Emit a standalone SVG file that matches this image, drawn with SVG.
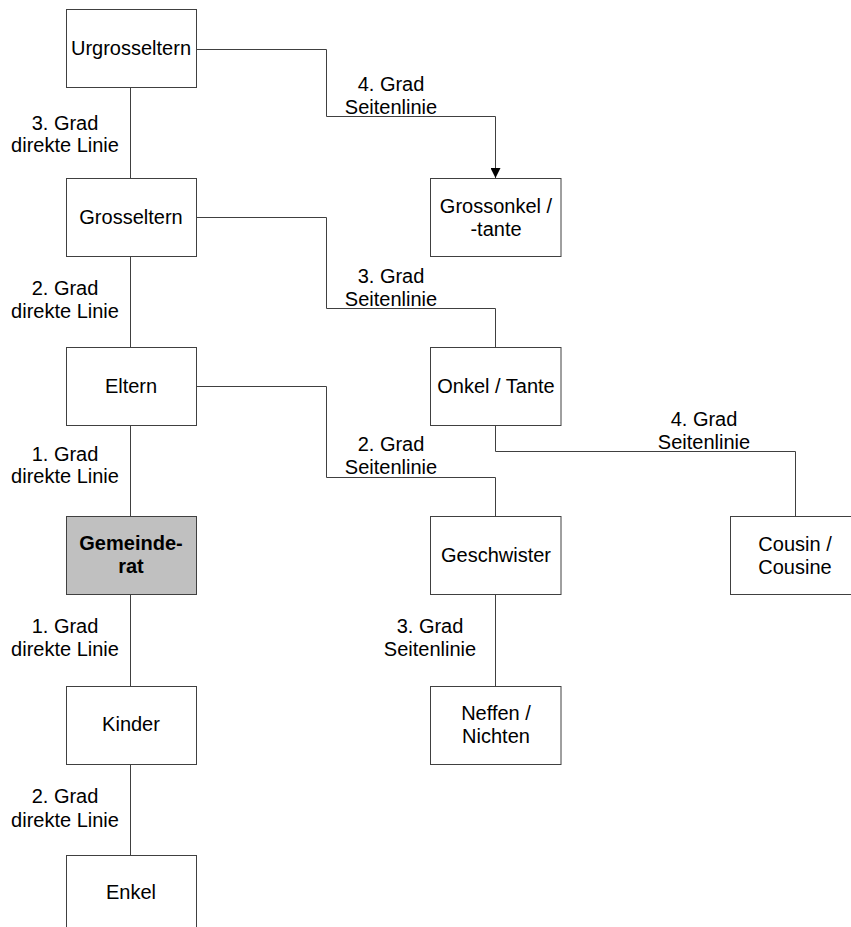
<svg xmlns="http://www.w3.org/2000/svg" width="851" height="927" viewBox="0 0 851 927">
<style>
.box{fill:#ffffff;stroke:#404040;stroke-width:1}
.hl{fill:#c0c0c0}
.t{font-family:"Liberation Sans",Arial,sans-serif;font-size:20px;fill:#000000;text-anchor:middle}
.b{font-weight:bold}
.c{fill:none;stroke:#404040;stroke-width:1}
</style>
<defs>
<marker id="arr" markerWidth="10" markerHeight="10" refX="10" refY="5" orient="auto" markerUnits="userSpaceOnUse">
<path d="M0,0 L10,5 L0,10 Z" fill="#000000"/>
</marker>
</defs>
<rect width="851" height="927" fill="#ffffff"/>
<g id="connectors">
<path class="c" d="M130.5,87.5 V178.5"/>
<path class="c" d="M130.5,256.5 V347.5"/>
<path class="c" d="M130.5,425.5 V516.5"/>
<path class="c" d="M130.5,594.5 V686.5"/>
<path class="c" d="M130.5,764.5 V855.5"/>
<path class="c" d="M196.5,49.5 H326.5 V116.5 H495.5 V178" marker-end="url(#arr)"/>
<path class="c" d="M196.5,217.5 H326.5 V308.5 H495.5 V347.5"/>
<path class="c" d="M196.5,386.5 H326.5 V477.5 H495.5 V516.5"/>
<path class="c" d="M495.5,425.5 V451.5 H795.5 V516.5"/>
<path class="c" d="M495.5,594.5 V686.5"/>
</g>
<g id="labels">
<text class="t" x="65" y="130">3. Grad</text>
<text class="t" x="65" y="152">direkte Linie</text>
<text class="t" x="65" y="295">2. Grad</text>
<text class="t" x="65" y="318">direkte Linie</text>
<text class="t" x="65" y="461">1. Grad</text>
<text class="t" x="65" y="483">direkte Linie</text>
<text class="t" x="65" y="633">1. Grad</text>
<text class="t" x="65" y="656">direkte Linie</text>
<text class="t" x="65" y="803">2. Grad</text>
<text class="t" x="65" y="827">direkte Linie</text>
<text class="t" x="391" y="91">4. Grad</text>
<text class="t" x="391" y="114">Seitenlinie</text>
<text class="t" x="391" y="283">3. Grad</text>
<text class="t" x="391" y="306">Seitenlinie</text>
<text class="t" x="391" y="451">2. Grad</text>
<text class="t" x="391" y="474">Seitenlinie</text>
<text class="t" x="704" y="426">4. Grad</text>
<text class="t" x="704" y="449">Seitenlinie</text>
<text class="t" x="430" y="633">3. Grad</text>
<text class="t" x="430" y="656">Seitenlinie</text>
</g>
<g id="urgrosseltern"><rect class="box" x="66.5" y="9.5" width="130" height="78"/><text class="t" x="131" y="55">Urgrosseltern</text></g>
<g id="grosseltern"><rect class="box" x="66.5" y="178.5" width="130" height="78"/><text class="t" x="131" y="224">Grosseltern</text></g>
<g id="eltern"><rect class="box" x="66.5" y="347.5" width="130" height="78"/><text class="t" x="131" y="393">Eltern</text></g>
<g id="gemeinderat"><rect class="box hl" x="66.5" y="516.5" width="130" height="78"/><text class="t b" x="131" y="550">Gemeinde-</text><text class="t b" x="131" y="573">rat</text></g>
<g id="kinder"><rect class="box" x="66.5" y="686.5" width="130" height="78"/><text class="t" x="131" y="731">Kinder</text></g>
<g id="enkel"><rect class="box" x="66.5" y="855.5" width="130" height="80"/><text class="t" x="131" y="899">Enkel</text></g>
<g id="grossonkel"><rect class="box" x="430.5" y="178.5" width="130.5" height="78"/><text class="t" x="496" y="213">Grossonkel /</text><text class="t" x="496" y="236">-tante</text></g>
<g id="onkel"><rect class="box" x="430.5" y="347.5" width="130.5" height="78"/><text class="t" x="496" y="393">Onkel / Tante</text></g>
<g id="geschwister"><rect class="box" x="430.5" y="516.5" width="130.5" height="78"/><text class="t" x="496" y="562">Geschwister</text></g>
<g id="neffen"><rect class="box" x="430.5" y="686.5" width="130.5" height="78"/><text class="t" x="496" y="720">Neffen /</text><text class="t" x="496" y="743">Nichten</text></g>
<g id="cousin"><rect class="box" x="730.5" y="516.5" width="131" height="78"/><text class="t" x="795" y="551">Cousin /</text><text class="t" x="795" y="574">Cousine</text></g>
</svg>
